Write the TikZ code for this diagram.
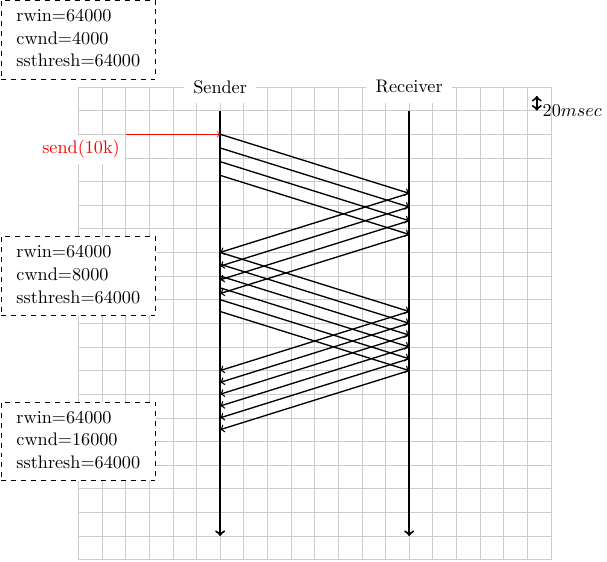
\documentclass[tikz,border=0pt]{standalone}
\begin{document}
\begin{tikzpicture}[x=0.5cm,y=0.5cm,
  font=\fontsize{10.95}{13.6}\selectfont,
  gridline/.style={black!20, line width=0.4pt},
  timeline/.style={very thick,->},
  msg/.style={thick,->},
  statebox/.style={draw, dashed, semithick, fill=white, inner sep=3.33pt},
  actor/.style={fill=white, inner sep=2mm}]
\useasboundingbox (-3.314,-20.06) rectangle (22.37,3.68);
\draw[gridline, step=0.5cm] (0,-20) grid (20,0);
% actors and time lines
\node[actor] (snd) at (6,0) {Sender};
\node[actor] (rcv) at (14,0) {Receiver};
\coordinate (sTop) at (6,-1); \coordinate (sBot) at (6,-19);
\coordinate (rTop) at (14,-1); \coordinate (rBot) at (14,-19);
\draw[timeline] (sTop) -- (sBot);
\draw[timeline] (rTop) -- (rBot);
% application request
\node[anchor=north east, text=red, fill=white] (send) at (2,-2) {send(10k)};
\coordinate (s0) at (6,-2);
\draw[red,->] (send.north east) -- (s0);
% first window: 4 segments
\foreach \i in {0,...,3} {
  \coordinate (aS\i) at (6,{-2-0.58*\i});
  \coordinate (aR\i) at (14,{-4.5-0.58*\i});
  \coordinate (aK\i) at (6,{-7-0.58*\i});
  \draw[msg] (aS\i) -- (aR\i);
  \draw[msg] (aR\i) -- (aK\i);
}
% second window: 6 segments
\foreach \i in {0,...,5} {
  \coordinate (bS\i) at (6,{-7-0.5*\i});
  \coordinate (bR\i) at (14,{-9.5-0.5*\i});
  \coordinate (bK\i) at (6,{-12-0.5*\i});
  \draw[msg] (bS\i) -- (bR\i);
  \draw[msg] (bR\i) -- (bK\i);
}
% state boxes
\node[statebox] (st1) at (0,2) {\begin{tabular}{l}rwin=64000\\cwnd=4000\\ssthresh=64000\end{tabular}};
\node[statebox] (st2) at (0,-8) {\begin{tabular}{l}rwin=64000\\cwnd=8000\\ssthresh=64000\end{tabular}};
\node[statebox] (st3) at (0,-15) {\begin{tabular}{l}rwin=64000\\cwnd=16000\\ssthresh=64000\end{tabular}};
% scale
\coordinate (m1) at (19.4,-0.38);
\coordinate (m2) at (19.4,-1);
\draw[very thick,<->] (m1) -- (m2);
\node[right] (ms) at (m2) {$20msec$};
\end{tikzpicture}
\end{document}
